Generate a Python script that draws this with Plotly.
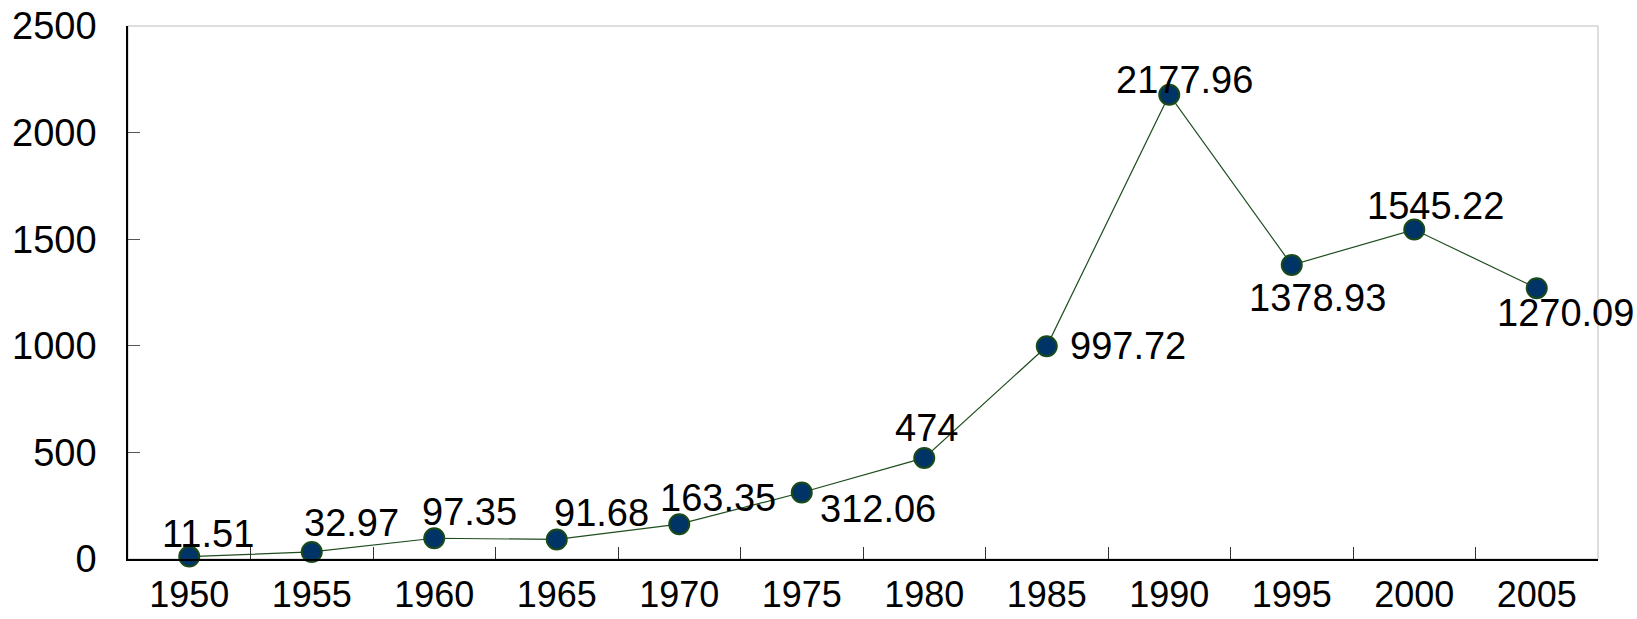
import plotly.graph_objects as go

# Series data
years = ["1950", "1955", "1960", "1965", "1970", "1975",
         "1980", "1985", "1990", "1995", "2000", "2005"]
values = [11.51, 32.97, 97.35, 91.68, 163.35, 312.06,
          474, 997.72, 2177.96, 1378.93, 1545.22, 1270.09]
y_ticks = [0, 500, 1000, 1500, 2000, 2500]

# Pixel offsets (dx, dy; dy positive = up) of each value label from its marker
label_offsets = [(19, 23), (40, 29), (35, 26), (45, 26), (39, 26), (76, -17),
                 (2, 30), (81, 0), (15, 15), (26, -33), (21, 24), (29, -25)]

FONT = "Liberation Sans, Arial, sans-serif"
FS = 38

fig = go.Figure()
fig.add_trace(go.Scatter(
    x=years, y=values, mode="lines+markers",
    line=dict(color="#1e4d1e", width=1.2),
    marker=dict(size=20, color="#003366", line=dict(color="#1a4a1a", width=2)),
    cliponaxis=False,
    showlegend=False,
))

# value labels; x given as category index so numeric-looking names are not misread
for i, (v, (dx, dy)) in enumerate(zip(values, label_offsets)):
    fig.add_annotation(
        x=i, y=v, xref="x", yref="y", text=f"{v:g}",
        showarrow=False, xshift=dx, yshift=dy,
        font=dict(family=FONT, size=FS, color="#000000"),
    )

# light frame on the top and right of the plot area
fig.add_shape(type="rect", xref="paper", yref="paper", x0=0, x1=1, y0=0, y1=1,
              line=dict(color="#d4d4d4", width=1.5), layer="below")

fig.update_layout(
    width=1637, height=619,
    margin=dict(l=128, r=39, t=26, b=60),
    paper_bgcolor="white", plot_bgcolor="white",
    font=dict(family=FONT, size=FS, color="#000000"),
)
fig.update_xaxes(
    type="category", tickson="boundaries",
    range=[-0.5, len(years) - 0.5],
    ticks="inside", ticklen=12, tickcolor="#333333", tickwidth=1.2,
    showline=True, linecolor="#000000", linewidth=1.5,
    showgrid=False, zeroline=False, automargin=False,
    tickfont=dict(family=FONT, size=36, color="#000000"),
    ticklabelstandoff=3,
)
fig.update_yaxes(
    range=[0, 2500], tickvals=y_ticks,
    ticks="inside", ticklen=12, tickcolor="#555555", tickwidth=1.2,
    showline=True, linecolor="#000000", linewidth=1.5,
    showgrid=False, zeroline=False, automargin=False,
    tickfont=dict(family=FONT, size=FS, color="#000000"),
    ticklabelstandoff=22,
)

fig.write_html("out.html")
